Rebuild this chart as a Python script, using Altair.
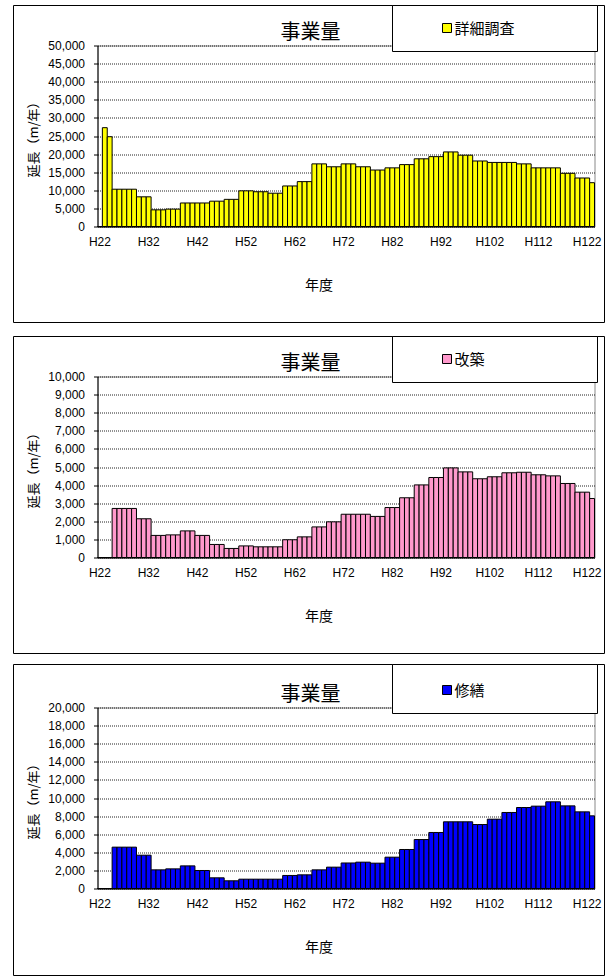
import altair as alt
import pandas as pd

# Fiscal years H22 .. H123 (one bar per year)
years = [f"H{n}" for n in range(22, 124)]
year_ticks = ["H22", "H32", "H42", "H52", "H62", "H72", "H82", "H92", "H102", "H112", "H122"]

# 詳細調査 (m/年)
survey = [
    0, 27300, 24800,
    10300, 10300, 10300, 10300, 10300,
    8200, 8200, 8200,
    4600, 4600, 4600, 4800, 4800, 4800,
    6500, 6500, 6500, 6500, 6500, 6500,
    7000, 7000, 7000, 7500, 7500, 7500,
    9850, 9850, 9850, 9600, 9600, 9600,
    9200, 9200, 9200, 11200, 11200, 11200,
    12400, 12400, 12400, 17300, 17300, 17300,
    16500, 16500, 16500, 17300, 17300, 17300,
    16500, 16500, 16500, 15600, 15600, 15600,
    16200, 16200, 16200, 17100, 17100, 17100,
    18700, 18700, 18700, 19300, 19300, 19300,
    20600, 20600, 20600, 19700, 19700, 19700,
    18100, 18100, 18100, 17700, 17700, 17700,
    17700, 17700, 17700, 17300, 17300, 17300,
    16200, 16200, 16200, 16200, 16200, 16200,
    14700, 14700, 14700, 13400, 13400, 13400,
    12100,
]

# 改築 (m/年)
rebuild = [
    0, 0, 0,
    2710, 2710, 2710, 2710, 2710,
    2140, 2140, 2140,
    1220, 1220, 1220, 1250, 1250, 1250,
    1470, 1470, 1470, 1220, 1220, 1220,
    720, 720, 720, 500, 500, 500,
    640, 640, 640, 590, 590, 590,
    590, 590, 590, 980, 980, 980,
    1140, 1140, 1140, 1690, 1690, 1690,
    1970, 1970, 1970, 2390, 2390, 2390,
    2390, 2390, 2390, 2270, 2270, 2270,
    2760, 2760, 2760, 3300, 3300, 3300,
    4010, 4010, 4010, 4420, 4420, 4420,
    4950, 4950, 4950, 4730, 4730, 4730,
    4350, 4350, 4350, 4460, 4460, 4460,
    4680, 4680, 4680, 4710, 4710, 4710,
    4570, 4570, 4570, 4510, 4510, 4510,
    4090, 4090, 4090, 3610, 3610, 3610,
    3260,
]

# 修繕 (m/年)
repair = [
    0, 0, 0,
    4570, 4570, 4570, 4570, 4570,
    3680, 3680, 3680,
    2060, 2060, 2060, 2170, 2170, 2170,
    2500, 2500, 2500, 1990, 1990, 1990,
    1180, 1180, 1180, 850, 850, 850,
    1030, 1030, 1030, 1030, 1030, 1030,
    1030, 1030, 1030, 1440, 1440, 1440,
    1510, 1510, 1510, 2060, 2060, 2060,
    2360, 2360, 2360, 2820, 2820, 2820,
    2910, 2910, 2910, 2800, 2800, 2800,
    3460, 3460, 3460, 4310, 4310, 4310,
    5410, 5410, 5410, 6190, 6190, 6190,
    7370, 7370, 7370, 7370, 7370, 7370,
    7070, 7070, 7070, 7660, 7660, 7660,
    8400, 8400, 8400, 8950, 8950, 8950,
    9100, 9100, 9100, 9580, 9580, 9580,
    9130, 9130, 9130, 8470, 8470, 8470,
    8030,
]

survey_ticks = [0, 5000, 10000, 15000, 20000, 25000, 30000, 35000, 40000, 45000, 50000]
rebuild_ticks = [0, 1000, 2000, 3000, 4000, 5000, 6000, 7000, 8000, 9000, 10000]
repair_ticks = [0, 2000, 4000, 6000, 8000, 10000, 12000, 14000, 16000, 18000, 20000]

JP = "Noto Sans CJK JP"
NUM = "Liberation Sans"
PLOT_W = 497
PLOT_H = 181


def panel(values, name, color, ticks, frame_top, frame_bottom):
    df = pd.DataFrame({"年度": years, "延長": values})
    one = pd.DataFrame({"k": [0]})

    frame = alt.Chart(one).mark_rect(
        fill="white", fillOpacity=0, stroke="black", strokeWidth=1
    ).encode(
        x=alt.value(-84), x2=alt.value(507),
        y=alt.value(frame_top), y2=alt.value(frame_bottom),
    )

    bars = alt.Chart(df).mark_bar(
        fill=color, stroke="black", strokeWidth=1
    ).encode(
        x=alt.X(
            "年度:N",
            sort=years,
            scale=alt.Scale(paddingInner=0, paddingOuter=0),
            axis=alt.Axis(
                values=year_ticks, labelAngle=0, ticks=False, labelPadding=10,
                title="年度", titleX=221, titleY=59, titleAlign="center",
                titleBaseline="middle", titleFontSize=14,
            ),
        ),
        y=alt.Y(
            "延長:Q",
            scale=alt.Scale(domain=[ticks[0], ticks[-1]], nice=False),
            axis=alt.Axis(
                values=ticks, format=",d", tickSize=4, labelPadding=9,
                title="延長（m/年）", titleX=-64, titleY=PLOT_H / 2,
                titleAlign="center", titleBaseline="middle", titleFontSize=13,
                grid=True, gridColor="#222", gridDash=[1, 1], gridWidth=1,
            ),
        ),
    )

    title = alt.Chart(one).mark_text(
        text="事業量", font=JP, fontSize=20, align="center", baseline="middle", color="black"
    ).encode(x=alt.value(213), y=alt.value(-13))

    legend_box = alt.Chart(one).mark_rect(
        fill="white", stroke="black", strokeWidth=1
    ).encode(x=alt.value(295), x2=alt.value(500), y=alt.value(frame_top), y2=alt.value(6))

    swatch = alt.Chart(one).mark_rect(
        fill=color, stroke="black", strokeWidth=1
    ).encode(x=alt.value(345), x2=alt.value(354), y=alt.value(-22), y2=alt.value(-13))

    legend_text = alt.Chart(one).mark_text(
        text=name, font=JP, fontSize=15, align="left", baseline="middle", color="black"
    ).encode(x=alt.value(357), y=alt.value(-17))

    return alt.layer(frame, bars, title, legend_box, swatch, legend_text).properties(
        width=PLOT_W, height=PLOT_H
    )


p1 = panel(survey, "詳細調査", "#FFFF00", survey_ticks, -40, 277)
p2 = panel(rebuild, "改築", "#FF99CC", rebuild_ticks, -40, 277)
p3 = panel(repair, "修繕", "#0000FF", repair_ticks, -43, 268)

chart = alt.vconcat(
    alt.vconcat(p1, p2, spacing=12), p3, spacing=9
).properties(
    padding={"left": 12.5, "top": 4.5, "right": 0, "bottom": 0}
).configure_view(
    stroke="#888", strokeWidth=1
).configure_axis(
    domainColor="black", tickColor="black", labelColor="black",
    labelFont=NUM, labelFontSize=12, titleFont=JP, titleFontWeight="normal",
    titleColor="black",
)

chart.save("out.html", embed_options={"renderer": "svg", "actions": False})
